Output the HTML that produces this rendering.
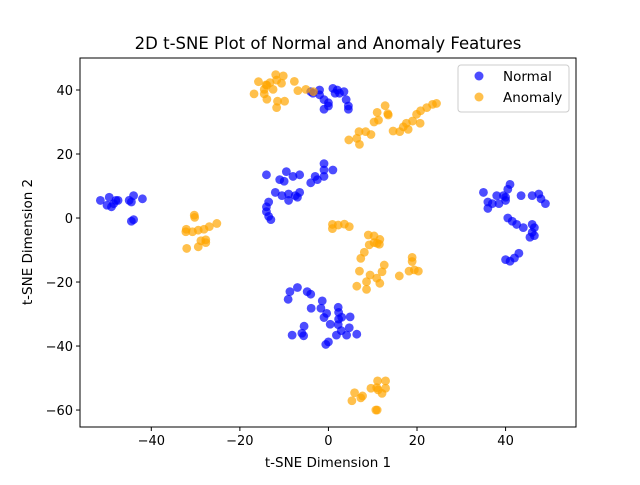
<!DOCTYPE html>
<html><head><meta charset="utf-8"><style>
body{margin:0;background:#fff}
svg text{font-family:"DejaVu Sans","Liberation Sans",sans-serif;fill:#000}
</style></head><body>
<svg id="chart" width="640" height="480" viewBox="0 0 640 480">
<rect width="640" height="480" fill="#fff"/>
<text x="328" y="49" font-size="16.5" text-anchor="middle">2D t-SNE Plot of Normal and Anomaly Features</text>
<text x="328" y="467" font-size="13.5" text-anchor="middle">t-SNE Dimension 1</text>
<text x="0" y="0" font-size="13.5" text-anchor="middle" transform="translate(32,242) rotate(-90)">t-SNE Dimension 2</text>
<g id="marks"></g>
<g id="axes"></g>
<g>
<rect x="458" y="65" width="111" height="47" rx="3" fill="#fff" fill-opacity="0.8" stroke="#ccc"/>
<circle cx="479" cy="76" r="4.5" fill="#0000ff" fill-opacity="0.7"/>
<text x="503" y="81" font-size="13.5">Normal</text>
<circle cx="479" cy="97" r="4.5" fill="#ffa500" fill-opacity="0.7"/>
<text x="503" y="102" font-size="13.5">Anomaly</text>
</g>
</svg>
<script>
const xTicks=[-40,-20,0,20,40];
const yTicks=[-60,-40,-20,0,20,40];
const normalPoints=[[-51.5,5.5],[-49.5,6.5],[-50,4],[-48.5,4.5],[-48,5.5],[-49,3.5],[-47.5,5.5],[-44.5,5],[-44,7],[-42,6],[-44,-0.5],[-44.5,-1],[-45,5.5],
[-14,13.5],[-11,12],[-9.5,14.5],[-10,11.5],[-8,13],[-6.5,13.5],[-3,13],[-2.5,12],[-1,15],[-1,17],[-1,13],[1,15],[-4,11],[-12,8],[-10.5,7],[-9,7.5],[-7.5,7],[-9,5.5],[-6.5,8],[-7,6.5],[-14,3.5],[-13.5,5],[-14,2],[-13.5,0.5],[-13,-0.5],
[-4,39.5],[-3.5,39],[-2,40],[-2,38.5],[-1,37],[0,36],[-1,34],[0,35],[1,40.5],[2,40],[2.5,39],[3.5,39.5],[4,37],[4.5,35],[4.5,34],[1.5,39],
[35,8],[36,5],[36,3],[37,4.5],[38,7],[38.5,4.5],[39.5,7],[40,5.5],[40.5,9],[41,10.5],[40,6.5],[43.5,7],[46,7],[47.5,7.5],[48,6],[49,4.5],[40.5,0],[41.5,-1],[42.5,-2],[44,-3],[45.5,-6],[46,-4.5],[46.5,-3],[46,-2],[40,-13],[41,-13.5],[42,-12.5],[43,-11],[46.5,-5.5],
[-9.1,-25.4],[-8.7,-23],[-7,-21.7],[-4.8,-23],[-4,-23.8],[-1.4,-25.9],[-3.9,-28.2],[-1.7,-28.2],[-0.4,-29.8],[-1,-31.1],[2.2,-27.9],[2.3,-29.5],[3,-31],[4.9,-30.9],[0.4,-33.2],[2.2,-33.3],[2.9,-35.2],[1.8,-36.6],[4.1,-36.6],[6.4,-36.3],[4.7,-34.3],[-5.5,-33.8],[-6,-36],[-8.2,-36.6],[-5.6,-36.8],[-0.6,-39.5],[0,-38.7],[2.3,-31.6]];
const anomalyPoints=[[-11.9,44.8],[-10.2,44.4],[-15.8,42.6],[-14.1,41.6],[-13.2,42.3],[-11.7,43.1],[-10.6,42.1],[-7.7,42.7],[-12.5,40.2],[-14.5,40.2],[-16.8,38.8],[-14.5,38.8],[-13.9,37.1],[-11.5,36.5],[-9.9,36.5],[-11.7,34.5],[-6.9,39.8],[-5.1,40.2],[-3.4,39.5],[-13.9,41.5],
[4.6,24.4],[6.4,24.9],[7,23],[6.9,27],[8.4,27],[9.6,26.1],[10.3,30],[11.3,30.6],[11,33],[12.8,35.1],[13.5,32.2],[13.4,32.6],[14.6,27.2],[16.1,27],[16.9,28.5],[18,27.7],[17.6,29.6],[19,30.3],[20.7,29.6],[19.9,32.4],[20.8,33.5],[22.2,34.5],[23.5,35.5],[24.4,35.8],
[-30.3,0.9],[-30.2,0.2],[-32.2,-4.3],[-32.1,-3.5],[-30.7,-4.3],[-29.4,-3.8],[-28.1,-3.5],[-26.9,-2.7],[-25.2,-1.7],[-32,-9.5],[-29.4,-9],[-28.8,-7.1],[-27.7,-7.7],[-27.7,-6.8],
[0.9,-2],[0.9,-3.3],[2.2,-2.2],[3.6,-1.9],[4.7,-2.7],[9,-5.3],[10.3,-5.6],[11.6,-6.7],[11.5,-8.2],[9.2,-8.4],[8.1,-10.7],[7.3,-12.6],[7,-16.6],[9.4,-17.8],[8.6,-19.9],[6.4,-21.3],[8.6,-22.3],[10.9,-18.8],[11.6,-20.4],[12.1,-16.8],[12.6,-14.7],[16,-18.1],[18.9,-12.3],[18.9,-13.6],[18.2,-16.6],[20.3,-16.6],[19.4,-16.2],[10.3,-7.7],[11,-7.9],
[11.1,-50.9],[12.9,-50.9],[9.6,-53.2],[11.2,-53.7],[12.9,-53.2],[12.1,-54.8],[5.9,-54.6],[7.7,-55.6],[7.3,-56.2],[5.3,-57.1],[10.7,-60],[11,-60],[10.9,-53]];

const L=80,R=576,T=58,B=427;
const X0=-56.1,X1=55.9,Y0=-65.3,Y1=50;
function sx(v){return L+(v-X0)/(X1-X0)*(R-L);}
function sy(v){return B-(v-Y0)/(Y1-Y0)*(B-T);}
const NS="http://www.w3.org/2000/svg";
const marks=document.getElementById('marks');
function drawSeries(pts,color,name){
  pts.forEach(p=>{
    const c=document.createElementNS(NS,'circle');
    c.setAttribute('cx',sx(p[0]));c.setAttribute('cy',sy(p[1]));
    c.setAttribute('r',4.4);c.setAttribute('fill',color);c.setAttribute('fill-opacity',0.7);
    
    
    marks.appendChild(c);
  });
}
drawSeries(normalPoints,'#0000ff','normal-point');
drawSeries(anomalyPoints,'#ffa500','anomaly-point');
const axes=document.getElementById('axes');
const frame=document.createElementNS(NS,'rect');
frame.setAttribute('x',L);frame.setAttribute('y',T);frame.setAttribute('width',R-L);frame.setAttribute('height',B-T);
frame.setAttribute('fill','none');frame.setAttribute('stroke','#000');frame.setAttribute('stroke-width',1);


axes.appendChild(frame);
xTicks.forEach(t=>{
  const x=sx(t);
  const l=document.createElementNS(NS,'line');
  l.setAttribute('x1',x);l.setAttribute('x2',x);l.setAttribute('y1',B);l.setAttribute('y2',B+4);l.setAttribute('stroke','#000');
  
  
  axes.appendChild(l);
  const tx=document.createElementNS(NS,'text');
  tx.setAttribute('x',x);tx.setAttribute('y',B+18);tx.setAttribute('font-size',13);tx.setAttribute('text-anchor','middle');
  tx.textContent=(t<0?'\u2212'+(-t):t);
  
  
  axes.appendChild(tx);
});
yTicks.forEach(t=>{
  const y=sy(t);
  const l=document.createElementNS(NS,'line');
  l.setAttribute('x1',L-4);l.setAttribute('x2',L);l.setAttribute('y1',y);l.setAttribute('y2',y);l.setAttribute('stroke','#000');
  
  
  axes.appendChild(l);
  const tx=document.createElementNS(NS,'text');
  tx.setAttribute('x',L-7);tx.setAttribute('y',y+5);tx.setAttribute('font-size',13);tx.setAttribute('text-anchor','end');
  tx.textContent=(t<0?'\u2212'+(-t):t);
  
  
  axes.appendChild(tx);
});
</script>
</body></html>
